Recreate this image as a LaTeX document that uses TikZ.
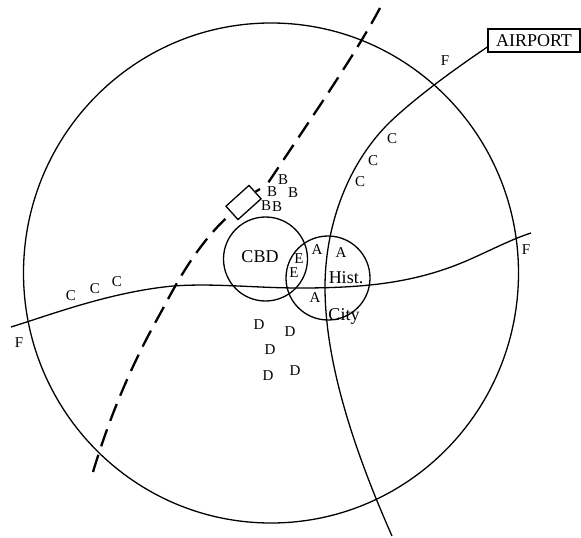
\documentclass[tikz,border=0pt]{standalone}
\usepackage{fontspec}
\usetikzlibrary{shapes.geometric}
\setmainfont{Liberation Serif}
\tikzset{
  line/.style={draw=black,line width=1.3pt},
  rail/.style={draw=black,line width=2.3pt,dash pattern=on 18pt off 9pt},
  lab/.style={inner sep=0pt,font=\fontsize{15}{15}\selectfont},
  biglab/.style={inner sep=0pt,font=\fontsize{18}{18}\selectfont}
}
\begin{document}
\begin{tikzpicture}[x=1pt,y=-1pt]
\useasboundingbox (0,0) rectangle (581,538);
\fill[white] (0,0) rectangle (581,538);
\node[line,ellipse,minimum width=495pt,minimum height=500pt,inner sep=0pt] (city) at (271,273) {};
\node[line,circle,minimum size=84pt,inner sep=0pt] (cbd) at (265.5,259) {};
\node[line,circle,minimum size=84pt,inner sep=0pt] (hist) at (328,278) {};
\node[draw=black,line width=1.2pt,minimum width=92pt,minimum height=23pt,inner sep=0pt,font=\fontsize{18}{18}\selectfont] (airport) at (534,40.5) {AIRPORT};
\node[line,minimum width=31pt,minimum height=18pt,inner sep=0pt,rotate=42] (station) at (243.5,202.5) {};
\coordinate (r1) at (11,327);
\coordinate (r2) at (531,233);
\coordinate (a1) at (airport.west |- 0,47);
\coordinate (v2) at (392,536);
\coordinate (t1) at (380,8);
\coordinate (t2) at (93,472);
\coordinate (s1) at (station.east);
\coordinate (s2) at (260,189);
\coordinate (s3) at (station.west);
\draw[line] (r1) .. controls (50,315) and (110,292) .. (173,286)
  .. controls (215,283) and (255,288) .. (300,288)
  .. controls (370,288) and (420,282) .. (473,258)
  .. controls (495,248) and (515,238) .. (r2);
\draw[line] (a1) .. controls (465,62) and (415,97) .. (387,125)
  .. controls (345,168) and (325,230) .. (325,287)
  .. controls (325,350) and (345,430) .. (v2);
\draw[rail] (t1) .. controls (355,55) and (310,120) .. (268,183);
\draw[draw=black,line width=2.3pt] (s1) -- (s2);
\draw[rail] (t2) .. controls (105,432) and (125,376) .. (160,314)
  .. controls (172,292) and (195,245) .. (s3);
% labels
\foreach \n/\t/\x/\y in {
 b1/B/283/180, b2/B/272/192, b3/B/293/193, b4/B/266/206, b5/B/277/207,
 a1/A/317/250, a2/A/341/253, a3/A/315/298,
 e1/E/299/259, e2/E/294/273,
 c1/C/71/296, c2/C/95/289, c3/C/117/282,
 c4/C/392/139, c5/C/373/161, c6/C/360/182,
 d1/D/259/325, d2/D/290/332, d3/D/270/350, d4/D/268/376, d5/D/295/371,
 f1/F/445/61, f2/F/526/250, f3/F/19/343}
 \node[lab] (\n) at (\x,\y) {\t};
\node[biglab] (cbdl) at (260,257) {CBD};
\node[biglab] (histl) at (346,278) {Hist.};
\node[biglab] (cityl) at (344,316) {City};
\end{tikzpicture}
\end{document}
